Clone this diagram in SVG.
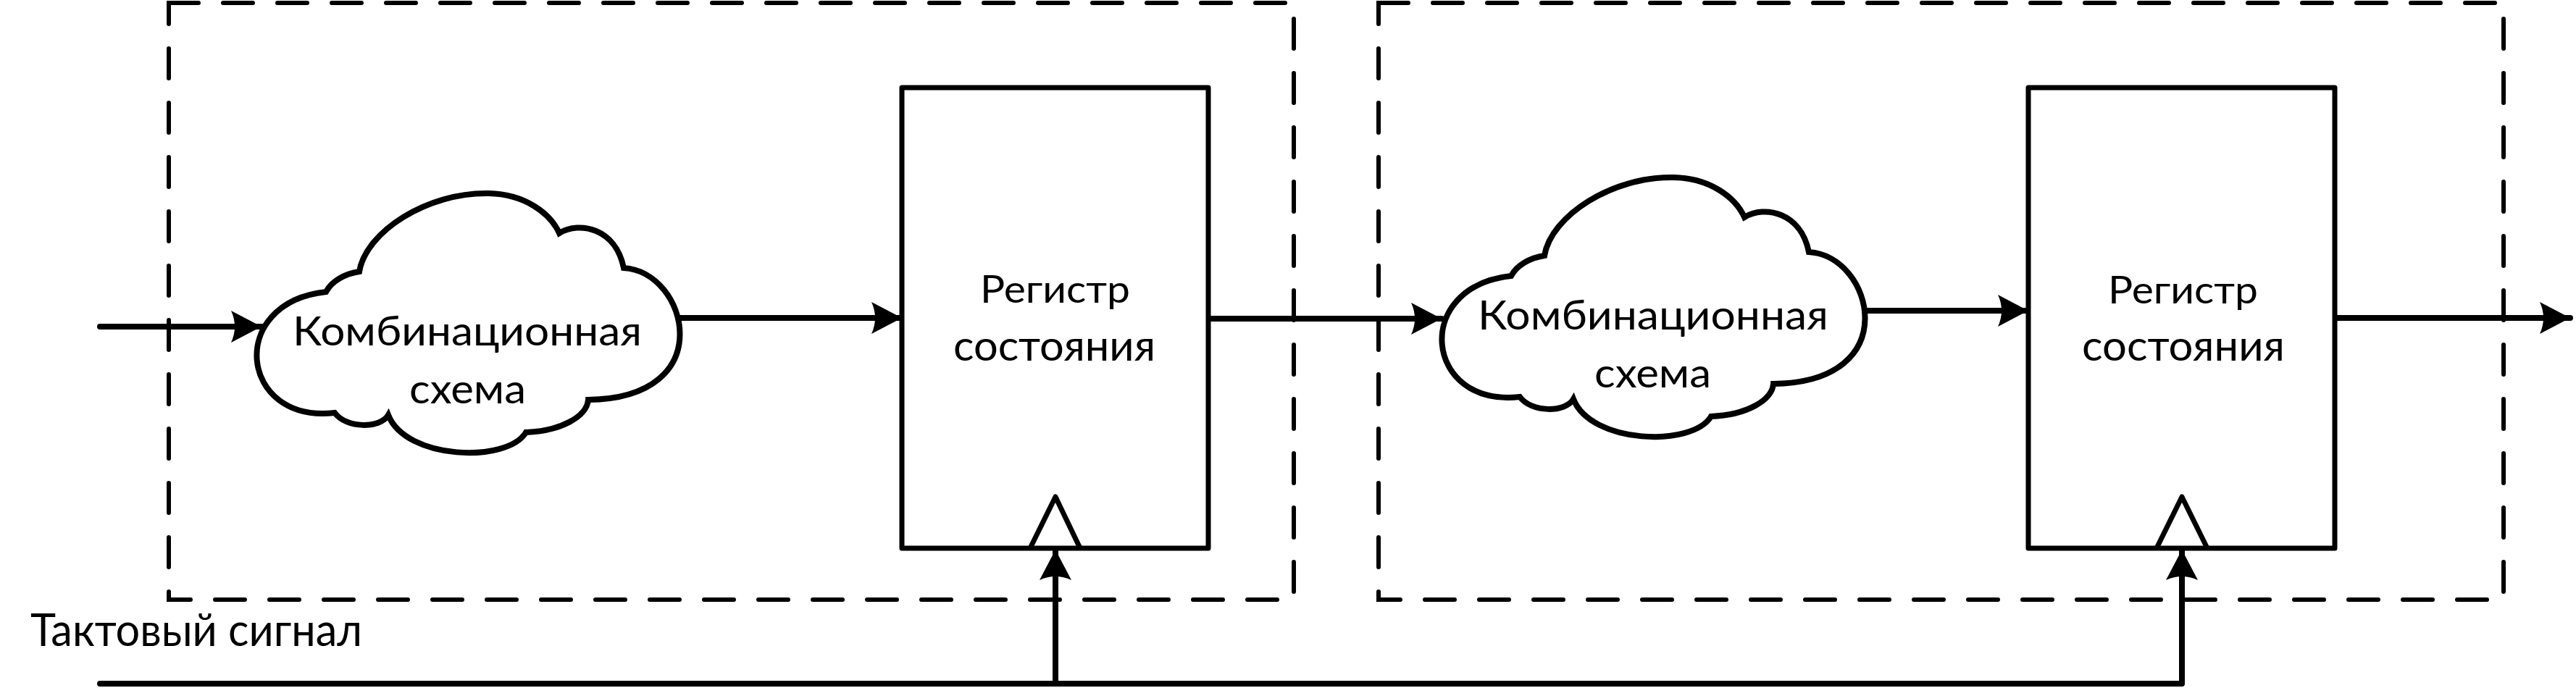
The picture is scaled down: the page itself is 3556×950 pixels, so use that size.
<svg xmlns="http://www.w3.org/2000/svg" width="3556" height="950" viewBox="0 0 3556 950">
<style>
.frame{fill:none;stroke:#000;stroke-width:6;stroke-dasharray:41 34;stroke-linecap:round}
.wire{fill:none;stroke:#000;stroke-width:8;stroke-linecap:round;stroke-linejoin:round}
.cloud{fill:#fff;stroke:#000;stroke-width:8;stroke-linejoin:miter}
.reg{fill:#fff;stroke:#000;stroke-width:7;stroke-linejoin:round}
.clk{fill:none;stroke:#000;stroke-width:7;stroke-linejoin:round}
.lbl{font-family:Lato,"Open Sans","Liberation Sans",sans-serif;fill:#000}
</style>
<defs>
<marker id="ah" markerUnits="userSpaceOnUse" markerWidth="50" markerHeight="50" viewBox="-44 -25 48 50" refX="0" refY="0" orient="auto">
<path d="M0,0 L-42,-22 Q-32,0 -42,22 Z" fill="#000"/>
</marker>
<path id="cloudShape" d="M450 403 C458 388 476 378 496 375 C505 320 590 265 675 267 C725 268 760 295 772 322 C800 305 850 315 861 370 C950 375 995 550 812 552 C810 575 775 595 726 597 C700 640 560 635 536 573 C525 592 478 592 462 570 C330 585 312 418 450 403 Z"/>
</defs>
<rect width="3556" height="950" fill="#fff"/>
<g id="stage1-frame"><rect class="frame" x="233" y="4" width="1553" height="824"/></g>
<g id="stage2-frame"><rect class="frame" x="1903" y="4" width="1553" height="824"/></g>
<g id="connectors">
<line class="wire" x1="138" y1="451" x2="361" y2="451" marker-end="url(#ah)"/>
<line class="wire" x1="930" y1="439" x2="1245" y2="439" marker-end="url(#ah)"/>
<line class="wire" x1="1668" y1="440" x2="1990" y2="440" marker-end="url(#ah)"/>
<line class="wire" x1="2568" y1="429" x2="2800" y2="429" marker-end="url(#ah)"/>
<line class="wire" x1="3223" y1="439" x2="3548" y2="439" marker-end="url(#ah)"/>
<polyline class="wire" points="138,944 3012,944 3012,759" marker-end="url(#ah)"/>
<line class="wire" x1="1457" y1="944" x2="1457" y2="759" marker-end="url(#ah)"/>
</g>
<g id="cloud1">
<use href="#cloudShape" class="cloud"/>
<text class="lbl" x="404" y="477" font-size="57" textLength="482" lengthAdjust="spacingAndGlyphs">Комбинационная</text>
<text class="lbl" x="565" y="557" font-size="57" textLength="161" lengthAdjust="spacingAndGlyphs">схема</text>
</g>
<g id="register1">
<rect class="reg" x="1245" y="121" width="423" height="636"/>
<polyline class="clk" points="1422,757 1457,686 1491,757"/>
<text class="lbl" x="1353" y="418" font-size="52" textLength="207" lengthAdjust="spacingAndGlyphs">Регистр</text>
<text class="lbl" x="1316" y="498" font-size="58" textLength="279" lengthAdjust="spacingAndGlyphs">состояния</text>
</g>
<g id="cloud2">
<use href="#cloudShape" class="cloud" transform="translate(1636,-22)"/>
<text class="lbl" x="2040" y="455" font-size="57" textLength="484" lengthAdjust="spacingAndGlyphs">Комбинационная</text>
<text class="lbl" x="2201" y="535" font-size="57" textLength="161" lengthAdjust="spacingAndGlyphs">схема</text>
</g>
<g id="register2">
<rect class="reg" x="2800" y="121" width="423" height="636"/>
<polyline class="clk" points="2977,757 3012,686 3047,757"/>
<text class="lbl" x="2910" y="419" font-size="52" textLength="207" lengthAdjust="spacingAndGlyphs">Регистр</text>
<text class="lbl" x="2874" y="498" font-size="58" textLength="280" lengthAdjust="spacingAndGlyphs">состояния</text>
</g>
<g id="clock-label">
<text class="lbl" x="42" y="892" font-size="61" textLength="458" lengthAdjust="spacingAndGlyphs">Тактовый сигнал</text>
</g>
</svg>
